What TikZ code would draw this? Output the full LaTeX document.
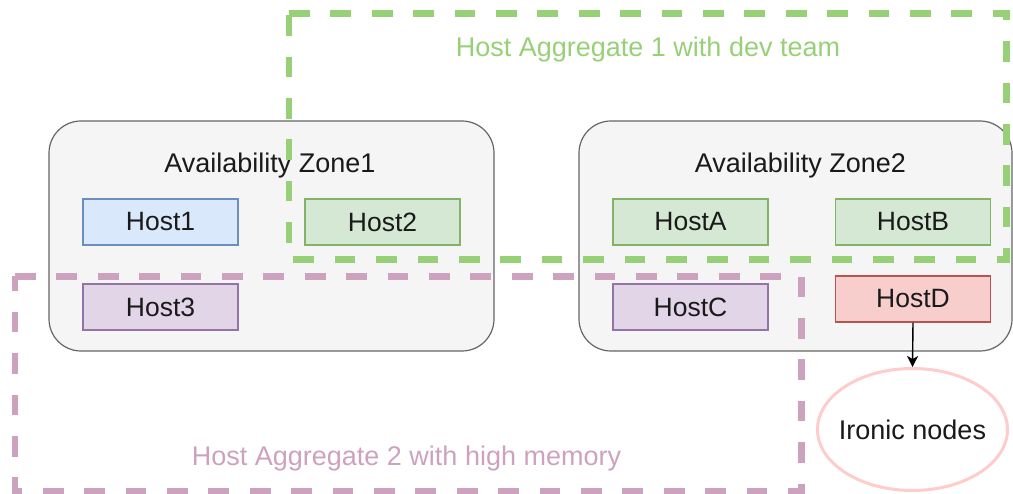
\documentclass[tikz,border=0pt]{standalone}
\usepackage{fontspec}
\setmainfont{Liberation Sans}
\usetikzlibrary{arrows.meta,shapes.geometric}
\definecolor{zonefill}{HTML}{F5F5F5}
\definecolor{zoneline}{HTML}{666666}
\definecolor{txt}{HTML}{1A1A1A}
\definecolor{bluefill}{HTML}{DAE8FC}
\definecolor{blueline}{HTML}{6C8EBF}
\definecolor{greenfill}{HTML}{D5E8D4}
\definecolor{greenline}{HTML}{82B366}
\definecolor{purplefill}{HTML}{E1D5E7}
\definecolor{purpleline}{HTML}{9673A6}
\definecolor{redfill}{HTML}{F8CECC}
\definecolor{redline}{HTML}{B85450}
\definecolor{aggA}{HTML}{97D077}
\definecolor{aggB}{HTML}{CDA2BE}
\definecolor{ironic}{HTML}{FFCCCC}
\tikzset{
  zonebox/.style={draw=zoneline, fill=zonefill, line width=1.2pt, rounded corners=32pt,
    minimum width=#1, minimum height=230pt, inner sep=0pt},
  hostbox/.style={draw=#1line, fill=#1fill, line width=1.2pt, minimum width=155pt,
    minimum height=46pt, inner sep=0pt, text=txt, font=\fontsize{26.5}{30}\selectfont},
  lbl/.style={font=\fontsize{27}{30}\selectfont, anchor=base, inner sep=0pt},
  aggline/.style={draw=#1, line width=6.5pt, dash pattern=on 20.7pt off 20.7pt},
}
\begin{document}
\begin{tikzpicture}[x=1pt,y=-1pt]
\useasboundingbox (0,0) rectangle (1013,494);
% zones
\node[zonebox=445pt] (z1) at (271.5,236) {};
\node[zonebox=433pt] (z2) at (795.5,236) {};
\node[lbl, text=txt] (z1l) at (270,173) {Availability Zone1};
\node[lbl, text=txt] (z2l) at (800.5,173) {Availability Zone2};
% hosts
\node[hostbox=blue] (h1) at (160.5,222) {Host1};
\node[hostbox=green] (h2) at (382.5,222) {Host2};
\node[hostbox=purple] (h3) at (160.5,307) {Host3};
\node[hostbox=green] (ha) at (690.5,222) {HostA};
\node[hostbox=green] (hb) at (913,222) {HostB};
\node[hostbox=purple] (hc) at (690.5,307) {HostC};
\node[hostbox=red] (hd) at (913,299) {HostD};
% ironic
\node[draw=ironic, fill=white, line width=3pt, ellipse, minimum width=190pt, minimum height=122pt,
  inner xsep=-8pt, inner ysep=0pt, text=txt, font=\fontsize{27}{30}\selectfont] (ir) at (912.5,429.5) {Ironic nodes};
\draw[line width=1.4pt, -{Stealth[length=11pt,width=11pt,inset=3pt]}] (hd.south) -- (ir.north);
% aggregates
\coordinate (g1) at (289,13.7);
\coordinate (g2) at (1006.7,259.3);
\draw[aggline=aggA] (g1) -- (g1 -| g2) -- (g2) -- (g2 -| g1) -- cycle;
\coordinate (p1) at (15,276.3);
\coordinate (p2) at (801.3,491);
\draw[aggline=aggB] (p1) -- (p1 -| p2) -- (p2) -- (p2 -| p1) -- cycle;
\node[lbl, text=aggA] (al1) at (648,57) {Host Aggregate 1 with dev team};
\node[lbl, text=aggB] (al2) at (406.5,465) {Host Aggregate 2 with high memory};
\end{tikzpicture}
\end{document}
